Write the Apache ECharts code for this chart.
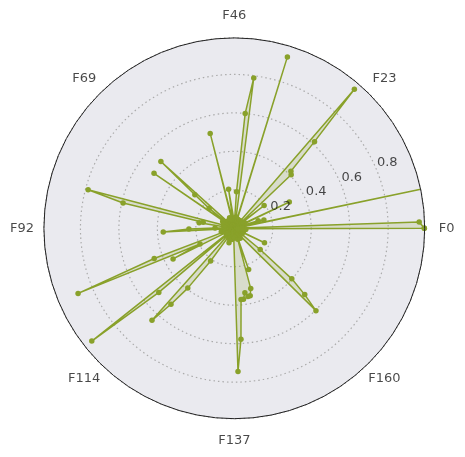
<!DOCTYPE html>
<html>
<head>
<meta charset="utf-8">
<script src="https://cdn.jsdelivr.net/npm/echarts@6/dist/echarts.min.js"></script>
<style>html,body{margin:0;padding:0;background:#fff}#c{width:465px;height:457px}</style>
</head>
<body>
<div id="c"></div>
<script>
// feature count and tick settings
const featureCount = 183;
const angleTickCount = 8;
const angleTickLabels = ['F0', 'F23', 'F46', 'F69', 'F92', 'F114', 'F137', 'F160'];
const radialTicks = [0.2, 0.4, 0.6, 0.8];
const radialMax = 0.99;

// values for F0 ... F182
const values = [
  0.988, 0.962, 0.03, 0.05, 0.02, 0.04, 0.99, 0.03, 0.16, 0.13,
  0.04, 0.02, 0.03, 0.317, 0.04, 0.06, 0.02, 0.03, 0.02, 0.195,
  0.03, 0.05, 0.406, 0.418, 0.614, 0.955, 0.03, 0.02, 0.05, 0.02,
  0.04, 0.01, 0.03, 0.02, 0.02, 0.05, 0.03, 0.933, 0.04, 0.02,
  0.03, 0.06, 0.788, 0.60, 0.19, 0.03, 0.04, 0.02, 0.03, 0.04,
  0.205, 0.02, 0.05, 0.509, 0.03, 0.02, 0.04, 0.02, 0.06, 0.02,
  0.03, 0.03, 0.01, 0.05, 0.02, 0.03, 0.02, 0.05, 0.03, 0.02,
  0.516, 0.269, 0.167, 0.03, 0.506, 0.04, 0.07, 0.02, 0.04, 0.02,
  0.03, 0.06, 0.02, 0.04, 0.786, 0.593, 0.165, 0.185, 0.03, 0.05,
  0.02, 0.10, 0.236, 0.37, 0.03, 0.06, 0.02, 0.04, 0.02, 0.07,
  0.03, 0.05, 0.445, 0.88, 0.196, 0.356, 0.02, 0.05, 0.04, 0.02,
  0.04, 0.945, 0.515, 0.03, 0.05, 0.02, 0.642, 0.514, 0.394, 0.21,
  0.03, 0.04, 0.02, 0.06, 0.03, 0.02, 0.05, 0.08, 0.02, 0.04,
  0.03, 0.06, 0.02, 0.04, 0.02, 0.04, 0.03, 0.05, 0.745, 0.578,
  0.372, 0.372, 0.339, 0.362, 0.36, 0.325, 0.06, 0.227, 0.03, 0.05,
  0.02, 0.04, 0.02, 0.06, 0.03, 0.02, 0.04, 0.02, 0.04, 0.03,
  0.603, 0.503, 0.398, 0.174, 0.03, 0.05, 0.02, 0.04, 0.02, 0.04,
  0.174, 0.03, 0.02, 0.05, 0.02, 0.04, 0.03, 0.02, 0.04, 0.02,
  0.06, 0.03, 0.04
];

const lineColor = '#89a12a';
const fillColor = 'rgba(137,161,42,0.25)';
const gridColor = '#ababab';
const textColor = '#1a1a1a';
const font = 'DejaVu Sans';

const seriesData = values.map((v, i) => [v, i]);
seriesData.push([values[0], featureCount]);
const radialLabelData = radialTicks.map(t => [t, 0]);
const angleLabelData = angleTickLabels.map((name, k) => ({
  name: name,
  value: [1, k * featureCount / angleTickCount]
}));

const hiddenAngle = (idx, max, start) => ({
  polarIndex: idx, type: 'value', min: 0, max: max, startAngle: start, clockwise: false,
  axisLine: {show: false}, axisTick: {show: false}, axisLabel: {show: false},
  splitLine: {show: false}, splitArea: {show: false}
});
const hiddenRadius = (idx, max) => ({
  polarIndex: idx, type: 'value', min: 0, max: max,
  axisLine: {show: false}, axisTick: {show: false}, axisLabel: {show: false},
  splitLine: {show: false}
});

const chart = echarts.init(document.getElementById('c'), null, {renderer: 'canvas'});
chart.setOption({
  animation: false,
  polar: [
    {center: [234.3, 228.3], radius: 190.4},
    {center: [234.3, 228.3], radius: 190.4},
    {center: [234.3, 228.3], radius: 212.3}
  ],
  angleAxis: [
    {
      polarIndex: 0,
      type: 'value',
      min: 0,
      max: featureCount,
      interval: featureCount / angleTickCount,
      startAngle: 0,
      clockwise: false,
      z: 0,
      axisLine: {show: false},
      axisTick: {show: false},
      axisLabel: {show: false},
      splitArea: {show: true, areaStyle: {color: ['#eaeaef']}},
      splitLine: {show: true, lineStyle: {color: gridColor, width: 1.2, type: [1.5, 3]}}
    },
    Object.assign(hiddenAngle(1, 360, 22.5), {
      z: 5,
      axisLine: {show: true, lineStyle: {color: '#222', width: 1}}
    }),
    hiddenAngle(2, featureCount, 0)
  ],
  radiusAxis: [
    {
      polarIndex: 0,
      type: 'value',
      min: 0,
      max: radialMax,
      interval: 0.2,
      z: 1,
      axisLine: {show: false},
      axisTick: {show: false},
      axisLabel: {show: false},
      splitLine: {show: true, lineStyle: {color: gridColor, width: 1.2, type: [1.5, 3]}}
    },
    hiddenRadius(1, radialMax),
    hiddenRadius(2, 1)
  ],
  series: [
    {
      type: 'line',
      coordinateSystem: 'polar',
      polarIndex: 0,
      data: seriesData,
      symbol: 'circle',
      symbolSize: 5.5,
      showAllSymbol: true,
      lineStyle: {color: lineColor, width: 1.5, join: 'round'},
      itemStyle: {color: lineColor},
      areaStyle: {color: fillColor},
      z: 3
    },
    {
      type: 'scatter',
      coordinateSystem: 'polar',
      polarIndex: 1,
      data: radialLabelData,
      symbolSize: 1,
      itemStyle: {color: 'rgba(0,0,0,0)'},
      silent: true,
      z: 6,
      label: {
        show: true,
        position: [1, 0],
        align: 'left',
        verticalAlign: 'bottom',
        color: textColor,
        fontFamily: font,
        fontSize: 13,
        formatter: p => p.value[0].toFixed(1)
      }
    },
    {
      type: 'scatter',
      coordinateSystem: 'polar',
      polarIndex: 2,
      data: angleLabelData,
      symbolSize: 1,
      itemStyle: {color: 'rgba(0,0,0,0)'},
      silent: true,
      z: 6,
      label: {
        show: true,
        position: [0.5, 0.5],
        align: 'center',
        verticalAlign: 'middle',
        color: textColor,
        fontFamily: font,
        fontSize: 13,
        formatter: p => p.name
      }
    }
  ]
});
</script>
</body>
</html>
